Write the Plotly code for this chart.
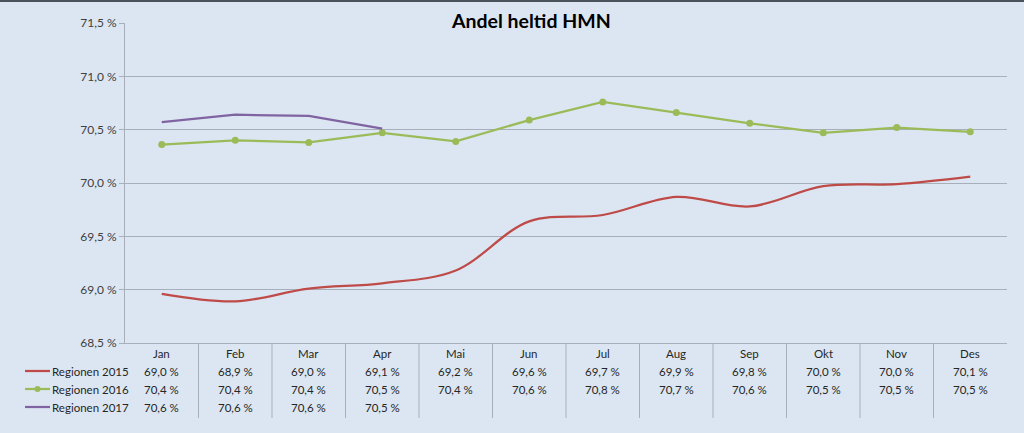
import plotly.graph_objects as go

months = ["Jan", "Feb", "Mar", "Apr", "Mai", "Jun", "Jul", "Aug", "Sep", "Okt", "Nov", "Des"]
series_names = ["Regionen 2015", "Regionen 2016", "Regionen 2017"]
reg2015 = [68.96, 68.89, 69.01, 69.06, 69.18, 69.64, 69.70, 69.87, 69.78, 69.97, 69.99, 70.06]
reg2016 = [70.36, 70.40, 70.38, 70.47, 70.39, 70.59, 70.76, 70.66, 70.56, 70.47, 70.52, 70.48]
reg2017 = [70.57, 70.64, 70.63, 70.51]
y_ticks = [68.5, 69.0, 69.5, 70.0, 70.5, 71.0, 71.5]
title_text = "Andel heltid HMN"

W, H = 1024, 433
L, R, T, B = 125, 1007, 23, 343
FONT = "Lato"
BG = "#DCE6F2"
GRID = "#A7B0BA"
colors = ["#BE4B48", "#9BBB59", "#8064A2"]


def px(x):
    return (x - L) / (R - L)


def py(y):
    return (B - y) / (B - T)


def fmt(v):
    return f"{v:.1f}".replace(".", ",") + " %"


fig = go.Figure()
xs = list(range(len(months)))
fig.add_trace(go.Scatter(x=xs, y=reg2015, mode="lines", name=series_names[0],
                         line=dict(color=colors[0], width=2.25, shape="spline", smoothing=1.0)))
fig.add_trace(go.Scatter(x=xs, y=reg2016, mode="lines+markers", name=series_names[1],
                         line=dict(color=colors[1], width=2.25),
                         marker=dict(color=colors[1], size=7)))
fig.add_trace(go.Scatter(x=xs[:len(reg2017)], y=reg2017, mode="lines", name=series_names[2],
                         line=dict(color=colors[2], width=2.25)))

annotations = []
shapes = []

# title
annotations.append(dict(text="<b>" + title_text + "</b>", xref="paper", yref="paper",
                        x=px(531), y=py(21), xanchor="center", yanchor="middle", showarrow=False,
                        font=dict(family=FONT, size=19.5, color="#000000")))

# table
row_y = [353, 371, 389, 407]
tfont = dict(family=FONT, size=11.5, color="#262626")
for i, m in enumerate(months):
    annotations.append(dict(text=m, xref="x", yref="paper", x=i, y=py(row_y[0]),
                            xanchor="center", yanchor="middle", showarrow=False, font=tfont))
for r, data in enumerate([reg2015, reg2016, reg2017]):
    for i, v in enumerate(data):
        annotations.append(dict(text=fmt(v), xref="x", yref="paper", x=i, y=py(row_y[r + 1]),
                                xanchor="center", yanchor="middle", showarrow=False, font=tfont))
    annotations.append(dict(text=series_names[r], xref="paper", yref="paper", x=px(50), y=py(row_y[r + 1]),
                            xanchor="left", yanchor="middle", showarrow=False, font=tfont))
    shapes.append(dict(type="line", xref="paper", yref="paper", x0=px(25), x1=px(50),
                       y0=py(row_y[r + 1]), y1=py(row_y[r + 1]),
                       line=dict(color=colors[r], width=2.25)))
    if r == 1:
        shapes.append(dict(type="circle", xref="paper", yref="paper",
                           x0=px(34.5), x1=px(40.5), y0=py(row_y[r + 1] + 3), y1=py(row_y[r + 1] - 3),
                           fillcolor=colors[r], line=dict(color=colors[r], width=0)))

for k in range(len(months) - 1):
    shapes.append(dict(type="line", xref="x", yref="paper", x0=k + 0.5, x1=k + 0.5,
                       y0=py(B), y1=py(418), line=dict(color=GRID, width=1)))

# top dark border
shapes.append(dict(type="rect", xref="paper", yref="paper", x0=px(0), x1=px(W), y0=py(0), y1=py(2),
                   fillcolor="#4A535C", line=dict(width=0), layer="above"))

fig.update_layout(
    width=W, height=H,
    margin=dict(l=L, r=W - R, t=T, b=H - B, pad=0),
    paper_bgcolor=BG, plot_bgcolor=BG,
    showlegend=False,
    annotations=annotations, shapes=shapes,
    xaxis=dict(range=[-0.5, len(months) - 0.5], showticklabels=False, showgrid=False, zeroline=False,
               showline=True, linecolor=GRID, linewidth=1, ticks=""),
    yaxis=dict(range=[68.5, 71.5], tickvals=y_ticks, ticktext=[fmt(v) for v in y_ticks],
               showgrid=True, gridcolor=GRID, gridwidth=1, zeroline=False,
               showline=True, linecolor=GRID, linewidth=1, ticks="outside", ticklen=5, tickcolor=GRID,
               tickfont=dict(family=FONT, size=12, color="#404040")),
)

fig.write_html("out.html", config={"displayModeBar": False},
               post_script="document.body.style.margin='0';document.body.style.background='" + BG + "';")
